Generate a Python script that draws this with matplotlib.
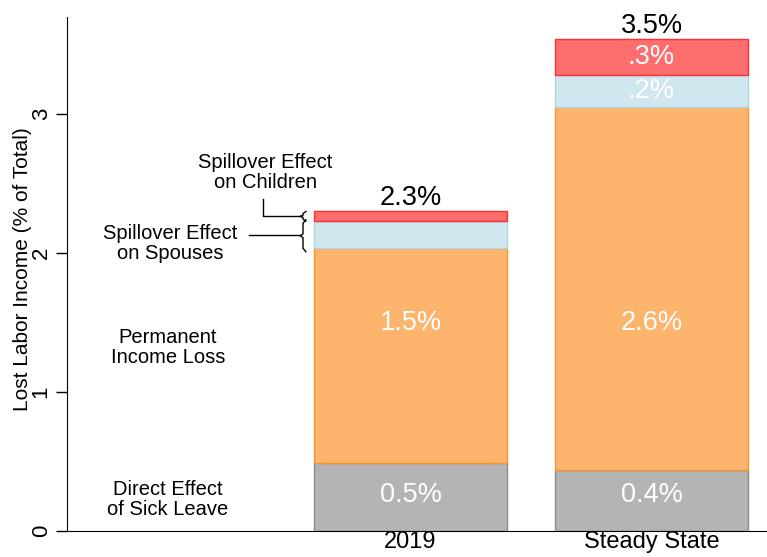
import matplotlib.pyplot as plt
import numpy as np

plt.rcParams['font.family'] = ['Liberation Sans', 'DejaVu Sans']

categories = ["2019", "Steady State"]
sick_leave = [0.49, 0.44]
perm_loss = [1.55, 2.61]
spouses = [0.19, 0.23]
children = [0.07, 0.26]
totals = ["2.3%", "3.5%"]
sick_labels = ["0.5%", "0.4%"]
perm_labels = ["1.5%", "2.6%"]
spouse_labels = ["", ".2%"]
child_labels = ["", ".3%"]

fig = plt.figure(figsize=(7.67, 5.57), dpi=100)
ax = fig.add_axes([67 / 767, 26 / 557, 700 / 767, 514 / 557])

x = np.arange(len(categories))
w = 0.8
segs = [
    (sick_leave, "#b4b4b4", "#8c8c8c"),
    (perm_loss, "#fdb46c", "#f7942f"),
    (spouses, "#d0e7ef", "#add6e4"),
    (children, "#ff6e6e", "#ff3030"),
]
bottom = np.zeros(len(categories))
for vals, fc, ec in segs:
    vals = np.array(vals)
    ax.bar(x, vals, w, bottom=bottom, color=fc, edgecolor=ec, linewidth=1)
    bottom = bottom + vals

# in-bar labels
fs = 19.5
for i in range(len(categories)):
    ax.text(x[i], 0.26, sick_labels[i], ha="center", va="center", color="white", fontsize=fs)
    ax.text(x[i], 1.5, perm_labels[i], ha="center", va="center", color="white", fontsize=fs)
    b = sick_leave[i] + perm_loss[i]
    if spouse_labels[i]:
        ax.text(x[i], b + spouses[i] / 2, spouse_labels[i], ha="center", va="center",
                color="white", fontsize=fs)
    b += spouses[i]
    if child_labels[i]:
        ax.text(x[i], b + children[i] / 2, child_labels[i], ha="center", va="center",
                color="white", fontsize=fs)
    ax.text(x[i], bottom[i] + 0.005, totals[i], ha="center", va="bottom", color="black", fontsize=fs)

# left side annotations
lfs = 14.5
lx = (168 - 410.5) / 241
ax.text(lx, 0.225, "Direct Effect\nof Sick Leave", ha="center", va="center", fontsize=lfs, linespacing=1.1)
ax.text(lx, 1.32, "Permanent\nIncome Loss", ha="center", va="center", fontsize=lfs, linespacing=1.1)
ax.text((170 - 410.5) / 241, 2.07, "Spillover Effect\non Spouses", ha="center", va="center",
        fontsize=lfs, linespacing=1.1)
ax.text((265 - 410.5) / 241, 2.58, "Spillover Effect\non Children", ha="center", va="center",
        fontsize=lfs, linespacing=1.1)


def brace(xp, y0, y1, d=0.02, dy=0.02):
    xx = (xp - 410.5) / 241
    m = (y0 + y1) / 2
    px = [xx + d, xx, xx, xx - d, xx, xx, xx + d]
    py = [y1, y1 - dy, m + dy / 2, m, m - dy / 2, y0 + dy, y0]
    ax.plot(px, py, color="black", lw=1, clip_on=False)


b0 = sick_leave[0] + perm_loss[0]
brace(303, b0 + spouses[0], b0 + spouses[0] + children[0], d=0.012, dy=0.015)
brace(303, b0 - 0.03, b0 + spouses[0] + 0.01, d=0.012, dy=0.025)
ax.plot([(249 - 410.5) / 241, (300 - 410.5) / 241], [2.13, 2.13], color="black", lw=1)
cy = b0 + spouses[0] + children[0] / 2
ax.plot([(263 - 410.5) / 241, (263 - 410.5) / 241, (300 - 410.5) / 241],
        [2.39, cy, cy], color="black", lw=1)

ax.set_xlim((67 - 410.5) / 241, (767 - 410.5) / 241)
ax.set_ylim(0, 3.7)
ax.set_xticks(x)
ax.set_xticklabels(categories, fontsize=17)
ax.set_yticks([0, 1, 2, 3])
ax.set_yticklabels(["0", "1", "2", "3"], rotation=90, va="center", fontsize=16)
ax.tick_params(axis="x", length=0, pad=0)
ax.tick_params(axis="y", length=8, width=1, pad=3)
ax.set_ylabel("Lost Labor Income (% of Total)", fontsize=15)
ax.yaxis.set_label_coords(-0.05, 0.51)
ax.spines["top"].set_visible(False)
ax.spines["right"].set_visible(False)

fig.savefig("out.png", dpi=100)
